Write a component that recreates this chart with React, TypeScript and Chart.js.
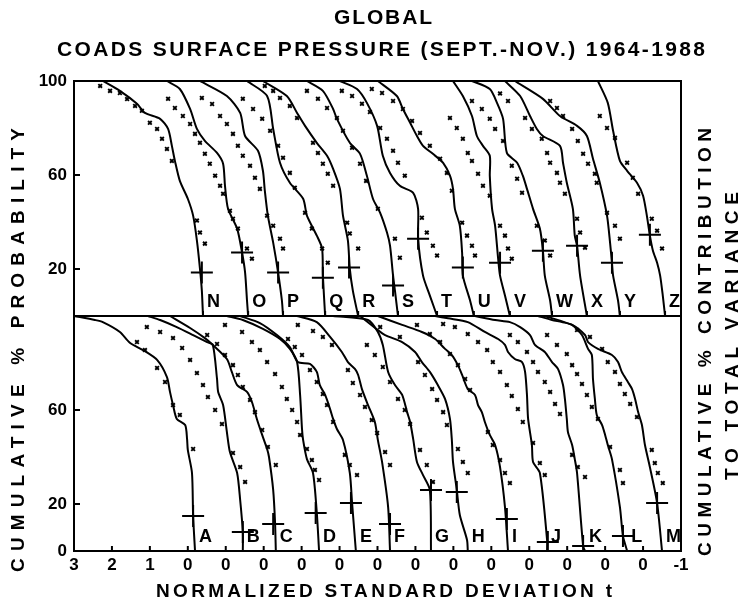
import React, { useEffect, useRef } from 'react';
import { Chart, registerables } from 'chart.js';

Chart.register(...registerables);

// ---------- text ----------
const TITLE_1 = 'GLOBAL';
const TITLE_2 = 'COADS SURFACE PRESSURE (SEPT.-NOV.) 1964-1988';
const X_TITLE = 'NORMALIZED STANDARD DEVIATION t';
const Y_TITLE_LEFT = 'CUMULATIVE % PROBABILITY';
const Y_TITLE_RIGHT_1 = 'CUMULATIVE % CONTRIBUTION';
const Y_TITLE_RIGHT_2 = 'TO TOTAL VARIANCE';

// ---------- axes ----------
// x value = t - k (k = curve index within its panel), so each curve has its own "0"
const X_TICK_VALUES = [3, 2, 1, 0, -1, -2, -3, -4, -5, -6, -7, -8, -9, -10, -11, -12, -13];
const X_TICK_LABELS = ['3', '2', '1', '0', '0', '0', '0', '0', '0', '0', '0', '0', '0', '0', '0', '0', '-1'];
// bottom panel 0..100, top panel 100..200
const Y_TICK_VALUES = [0, 20, 60, 120, 160, 200];
const Y_TICK_LABELS = ['0', '20', '60', '20', '60', '100'];

const TOP_NAMES = ['N', 'O', 'P', 'Q', 'R', 'S', 'T', 'U', 'V', 'W', 'X', 'Y', 'Z'];
const BOTTOM_NAMES = ['A', 'B', 'C', 'D', 'E', 'F', 'G', 'H', 'I', 'J', 'K', 'L', 'M'];

// ---------- top panel: solid curves [t, %] ----------
const N_line = [[2.24,100],[1.79,95.8],[1.34,90.3],[1.13,86.4],[0.73,83.9],[0.52,79.6],[0.42,72.4],[0.34,66],[0.21,57.5],[0,49.9],[-0.14,42.7],[-0.24,32.1],[-0.32,20.2],[-0.37,10.8],[-0.40,0]];
const O_line = [[1.55,100],[1.21,96.6],[0.94,88.1],[0.76,79.6],[0.55,74.5],[0.23,69.4],[0.07,64.8],[0.02,55.4],[-0.06,45.6],[-0.30,37.2],[-0.43,27],[-0.51,18.5],[-0.56,6.6],[-0.59,0]];
const P_line = [[1.68,100],[0.97,93.6],[0.62,86.4],[0.49,76.6],[0.15,70.3],[0.02,61.8],[-0.03,53.3],[-0.11,42.7],[-0.25,31.2],[-0.38,18.5],[-0.48,6.6],[-0.51,0]];
const Q_line = [[1.44,100],[0.91,93.6],[0.75,79.6],[0.57,65.2],[0.31,56.7],[-0.04,49.9],[-0.14,42.7],[-0.40,34.2],[-0.54,28.7],[-0.56,17.2],[-0.62,0]];
const R_line = [[2.02,100],[1.39,93.6],[1.12,86.4],[0.91,80.9],[0.60,73.7],[0.33,68.2],[0.17,62.6],[-0.01,54.1],[-0.09,42.7],[-0.22,32.1],[-0.27,20.2],[-0.35,10.8],[-0.49,0]];
const S_line = [[1.86,100],[1.44,95.8],[1.17,88.1],[1.07,83.9],[0.73,73.7],[0.46,69],[0.28,59.7],[0.12,49.9],[-0.07,43.9],[-0.25,35.5],[-0.33,29.9],[-0.41,17.2],[-0.46,10.8],[-0.54,0]];
const T_line = [[1.99,100],[1.54,96.6],[1.28,90.7],[1.01,80.9],[0.86,68.2],[0.67,60.9],[0.41,55.4],[0.06,52.4],[-0.07,45.6],[-0.07,32.9],[-0.20,17.2],[-0.38,8.7],[-0.57,0]];
const U_line = [[1.99,100],[1.49,93.6],[1.33,88.1],[1.14,82.2],[0.96,76.6],[0.80,72.4],[0.54,69],[0.27,65.2],[0.09,59.7],[0.01,54.1],[-0.04,45.6],[-0.17,38.4],[-0.23,27],[-0.25,17.2],[-0.44,6.6],[-0.54,0]];
const V_line = [[1.01,100],[0.75,93.6],[0.51,85.1],[0.38,76.6],[0.22,72.4],[0.04,68.2],[0.04,59.7],[-0.02,45.6],[-0.10,38.4],[-0.18,24.4],[-0.23,17.2],[-0.36,8.7],[-0.49,0]];
const W_line = [[1.51,100],[1.04,96.6],[0.85,90.7],[0.69,83.9],[0.59,69.4],[0.32,65.2],[0.17,59.7],[0.06,54.1],[-0.10,45.6],[-0.28,37.2],[-0.36,27.8],[-0.41,17.2],[-0.55,6.6],[-0.60,0]];
const X_line = [[1.64,100],[1.24,93.6],[0.98,85.1],[0.80,79.6],[0.64,76.6],[0.19,72.4],[0.11,65.2],[0.01,56.7],[-0.15,45.6],[-0.20,34.2],[-0.26,29.9],[-0.34,17.2],[-0.52,0]];
const Y_line = [[2.38,100],[1.64,92.4],[1.19,85.1],[0.74,80.9],[0.48,76.6],[0.32,66.9],[0.14,56.7],[-0.05,42.7],[-0.13,31.2],[-0.18,22.7],[-0.21,17.2],[-0.34,6.6],[-0.39,0]];
const Z_line = [[1.19,100],[0.93,90.7],[0.79,78.8],[0.61,66],[0.42,61.8],[0.16,56.7],[0,51.2],[-0.10,42.7],[-0.18,34.2],[-0.26,27.8],[-0.37,22.7],[-0.45,17.2],[-0.52,8.7],[-0.58,0]];

// ---------- top panel: "x" points [t, %] ----------
const N_marks = [[2.31,97.9],[2.05,95.8],[1.79,94.9],[1.60,92.3],[1.39,89.4],[1.21,87.3],[1.0,82.2],[0.81,79.6],[0.68,75.4],[0.55,71.1],[0.42,66],[-0.24,40.6],[-0.32,35.5],[-0.45,30.8]];
const O_marks = [[1.52,92.4],[1.34,88.5],[1.13,85.1],[0.94,81.7],[0.81,77.5],[0.68,73.7],[0.55,69],[0.42,64.8],[0.28,59.7],[0.15,55.4],[0.07,52],[-0.11,44.8],[-0.19,41.4],[-0.32,37.2],[-0.56,28.7],[-0.69,24.4]];
const P_marks = [[1.63,92.8],[1.36,90.2],[1.15,85.1],[0.97,81.7],[0.81,77.5],[0.68,72.4],[0.55,68.2],[0.36,63.9],[0.23,58.8],[0.10,54.1],[-0.09,42.7],[-0.25,38.4],[-0.43,32.9],[-0.51,28.7]];
const Q_marks = [[1.55,92.4],[1.28,88.1],[1.04,83.9],[0.83,78.8],[0.62,72.4],[0.49,67.3],[0.31,60.9],[0.18,54.6],[-0.09,43.9],[-0.27,37.2],[-0.54,28.7],[-0.69,22.7]];
const R_marks = [[1.97,97.9],[1.75,95.8],[1.57,92.8],[1.31,89.4],[1.12,84.3],[0.70,73.7],[0.57,69.4],[0.44,64.8],[0.31,60.5],[0.17,55.4],[-0.20,39.7],[-0.27,35.1],[-0.49,28.7]];
const S_marks = [[1.86,95.8],[1.57,92.4],[1.33,88.5],[1.07,84.3],[0.91,78.8],[0.67,71.6],[0.46,64.8],[0.30,57.5],[-0.01,45.6],[-0.46,32.9],[-0.59,24.8]];
const T_marks = [[1.94,95.8],[1.67,93.6],[1.41,90.3],[1.20,86.8],[0.93,80],[0.75,75.4],[0.59,70.3],[0.46,65.2],[0.28,59.7],[-0.17,41.8],[-0.30,35.5],[-0.46,29.9],[-0.57,25.7]];
const U_marks = [[2.15,96.6],[1.88,94.9],[1.59,91.5],[1.33,88.1],[1.09,83],[0.88,77.9],[0.62,72.4],[0.35,66.9],[0.17,60.9],[0.04,53.3],[-0.23,39.7],[-0.36,34.2],[-0.49,29.9],[-0.57,25.7]];
const V_marks = [[1.09,84.3],[0.91,80],[0.75,75.4],[0.62,69.4],[0.51,66],[0.35,60.5],[0.22,55.4],[0.04,51.2],[-0.23,38.4],[-0.36,34.2],[-0.44,28.7],[-0.54,24.4]];
const W_marks = [[1.51,91.5],[1.25,88.1],[1.04,83.9],[0.90,79.6],[0.69,74.5],[0.46,63.9],[0.32,58.4],[0.19,52.4],[-0.20,38.4],[-0.41,32.1],[-0.55,25.7]];
const X_marks = [[1.77,94.7],[1.56,91.5],[1.11,84.3],[0.93,79.6],[0.67,75.4],[0.53,69.4],[0.45,65.2],[0.27,60.9],[0.19,56.7],[0.06,52],[-0.26,41.4],[-0.34,35.5],[-0.47,29.1]];
const Y_marks = [[1.45,91.5],[1.27,88.5],[1.11,85.1],[0.87,79.6],[0.72,74.5],[0.58,69],[0.45,64.8],[0.27,60.5],[0.22,56.7],[-0.05,43.9],[-0.26,38.4],[-0.39,32.9]];
const Z_marks = [[1.14,85.1],[0.95,80],[0.74,75.8],[0.42,65.2],[0.27,58.8],[0.13,52],[-0.23,41.4],[-0.37,36.3],[-0.50,28.7]];

// ---------- bottom panel: solid curves [t, %] ----------
const A_line = [[3,100],[2.45,98.3],[2.24,97.4],[1.79,93.2],[1.52,88.5],[1.18,85.5],[0.81,81.3],[0.55,74],[0.47,67.7],[0.39,62.1],[0.29,56.2],[0.07,53.6],[0.02,47.7],[0,43],[-0.11,33.2],[-0.14,14.9],[-0.19,0]];
const B_line = [[2.05,100],[1.73,98.3],[1.29,95.3],[0.86,91.9],[0.49,88.9],[0.34,87.7],[0.23,73.2],[0.20,67.7],[0.07,62.1],[-0.03,50.6],[-0.11,42.1],[-0.30,33.2],[-0.38,21.7],[-0.45,8.1],[-0.45,0]];
const C_line = [[2.47,100],[1.94,94.9],[1.55,90.6],[1.34,87.7],[0.97,81.7],[0.84,76.2],[0.70,70.6],[0.44,67.7],[0.31,63.4],[0.18,56.2],[0.04,49.4],[-0.09,43.4],[-0.14,40],[-0.25,26],[-0.30,11.9],[-0.32,0]];
const D_line = [[1.97,100],[1.55,98.3],[1.02,94.5],[0.57,90.2],[0.31,86],[0.12,80.4],[0.04,66.4],[-0.01,51.9],[-0.04,47.2],[-0.14,39.1],[-0.30,33.2],[-0.40,16.2],[-0.46,0]];
const E_line = [[2.62,100],[2.10,97],[1.65,91.9],[1.31,86.8],[1.10,80.4],[0.78,79.6],[0.60,76.2],[0.52,70.6],[0.38,66.4],[0.25,60.4],[0.17,56.2],[0.07,51.9],[-0.09,47.2],[-0.27,33.2],[-0.33,20.4],[-0.43,0]];
const F_line = [[2.12,100],[1.60,97.4],[1.25,91.1],[0.94,84.7],[0.78,80.4],[0.59,77.4],[0.51,74.9],[0.41,68.9],[0.25,62.1],[0.07,54.9],[-0.01,47.2],[-0.12,37.9],[-0.28,18.7],[-0.33,0]];
const G_line = [[2.17,100],[1.25,98.3],[0.99,93.2],[0.86,87.7],[0.72,76.2],[0.54,70.6],[0.35,66.4],[0.22,59.1],[0.14,54.9],[0.06,47.7],[-0.04,37.9],[-0.20,32.3],[-0.38,26],[-0.41,0]];
const H_line = [[2.46,100],[1.99,94],[1.80,91.9],[1.35,88.9],[1.01,84.7],[0.83,80.4],[0.62,76.2],[0.41,70.6],[0.22,64.7],[0.09,56.2],[0.04,47.2],[0.01,37.9],[-0.09,26],[-0.17,15.3],[-0.36,4.7],[-0.38,0]];
const I_line = [[2.99,100],[2.35,96.2],[1.83,93.2],[1.48,90.2],[1.22,86],[1.04,83.4],[0.88,79.1],[0.77,74.9],[0.62,68.9],[0.43,66.4],[0.35,62.1],[0.25,59.1],[0.17,54.9],[0.04,49.4],[-0.10,45.1],[-0.23,35.7],[-0.36,18.7],[-0.44,0]];
const J_line = [[2.48,100],[2.14,99],[1.62,97.4],[1.17,93.2],[0.82,90.2],[0.64,87.7],[0.56,84.7],[0.38,81.7],[0.19,80.4],[0.11,76.2],[0.06,66.4],[0.03,56.2],[-0.07,45.1],[-0.10,37.9],[-0.28,33.2],[-0.47,4.7],[-0.47,0]];
const K_line = [[2.43,100],[1.90,98.3],[1.51,97.4],[1.24,95.3],[0.98,91.9],[0.85,87.7],[0.59,84.7],[0.40,80.4],[0.24,77.4],[0.11,70.6],[0.06,64.7],[0.01,56.2],[-0.02,50.6],[-0.13,45.1],[-0.20,39.1],[-0.26,33.2],[-0.42,2.1],[-0.47,0]];
const L_line = [[1.77,100],[1.40,98.3],[1.14,97.4],[0.87,96.2],[0.61,91.9],[0.45,86],[0.35,83.4],[0.32,73.2],[0.27,64.7],[0.22,57.9],[0.08,53.6],[0,49.4],[-0.07,45.1],[-0.18,39.1],[-0.39,18.7],[-0.47,6.4],[-0.58,0]];
const M_line = [[2.59,100],[1.87,96.2],[1.53,91.9],[1.45,88.9],[1.19,86],[0.82,83.4],[0.66,80.4],[0.56,76.2],[0.40,71.9],[0.29,68.9],[0.21,64.7],[0.13,59.1],[0.03,53.6],[-0.05,45.1],[-0.18,35.7],[-0.37,20.4],[-0.50,0]];

// ---------- bottom panel: "x" points [t, %] ----------
const A_marks = [[1.34,88.9],[1.13,85.5],[0.81,77.9],[0.60,71.9],[0.39,62.1],[0.21,57.9],[-0.14,43.4]];
const B_marks = [[2.08,95.3],[1.73,93.2],[1.39,90.6],[1.15,86.4],[0.94,81.3],[0.76,75.7],[0.60,70.6],[0.47,65.5],[0.28,60],[0.10,54],[-0.19,41.7],[-0.38,35.7],[-0.51,29.4]];
const C_marks = [[1.49,91.9],[1.23,88.1],[1.02,83.4],[0.81,79.1],[0.68,74.9],[0.55,69.8],[0.36,64.3],[0.23,59.1],[0.04,51.5],[-0.11,44.3],[-0.32,36.6]];
const D_marks = [[2.02,96.2],[1.57,93.2],[1.31,88.9],[1.10,85.5],[0.91,80.4],[0.70,75.3],[0.52,69.8],[0.39,64.7],[0.25,60],[0.12,54.9],[0.04,49.4],[-0.14,43.4],[-0.27,38.7],[-0.35,34.5],[-0.46,30.2]];
const E_marks = [[1.36,90.2],[1.18,86.8],[0.99,83.4],[0.78,77],[0.60,71.9],[0.44,66.8],[0.33,62.1],[0.17,54.9],[-0.14,40.9],[-0.27,36.6],[-0.46,32.3]];
const F_marks = [[2.10,96.2],[1.70,93.6],[1.44,91.1],[1.20,87.7],[0.78,77],[0.65,71.5],[0.46,66.4],[0.33,61.3],[0.15,55.7],[0.01,50.2],[-0.20,42.1],[-0.33,36.6]];
const G_marks = [[1.28,87.7],[1.07,83.4],[0.86,78.3],[0.67,71.9],[0.46,64.7],[0.28,60],[0.14,54],[-0.12,43],[-0.30,36.6],[-0.46,29.4]];
const H_marks = [[1.93,95.3],[1.41,91.1],[0.93,80.4],[0.75,74.9],[0.56,68.9],[0.43,64.3],[0.27,59.1],[0.17,53.6],[-0.12,43.4],[-0.25,37.9],[-0.38,33.2]];
const I_marks = [[1.96,96.2],[1.62,92.3],[1.35,88.9],[1.09,83.8],[0.88,79.1],[0.69,73.2],[0.56,68.5],[0.09,50.6],[-0.04,45.1],[-0.23,38.7],[-0.36,33.2],[-0.49,28.9]];
const J_marks = [[2.27,96.6],[1.96,95.3],[1.62,92.3],[1.35,88.9],[1.11,85.5],[0.96,80.4],[0.77,76.2],[0.59,70.6],[0.46,66],[0.30,60.4],[0.17,54.9],[-0.10,46],[-0.28,37.4],[-0.41,32.3]];
const K_marks = [[1.51,91.9],[1.30,88.9],[1.06,84.7],[0.90,80.4],[0.77,76.2],[0.59,71.9],[0.45,67.7],[0.32,62.6],[0.19,58.3],[-0.13,40.9],[-0.28,35.7],[-0.47,31.5]];
const L_marks = [[1.53,91.9],[1.27,87.7],[1.01,83.8],[0.87,79.1],[0.74,75.3],[0.61,71.1],[0.48,66.4],[0.35,61.3],[0.19,56.2],[-0.13,44.3],[-0.39,34.5],[-0.47,28.9]];
const M_marks = [[1.74,94],[1.40,91.1],[1.08,86],[0.93,80.4],[0.74,76.2],[0.61,71.1],[0.48,66.8],[0.34,62.6],[0.16,57],[-0.23,43],[-0.31,37.4],[-0.39,33.2],[-0.52,28.9]];

// ---------- "+" marks [t, %] ----------
const TOP_CROSSES = [[-0.37,18.5],[-0.43,27],[-0.38,18.5],[-0.56,16.3],[-0.25,20.6],[-0.41,13],[-0.07,32.9],[-0.25,20.6],[-0.23,22.7],[-0.36,27.8],[-0.26,29.9],[-0.18,22.7],[-0.18,34.6]];
const BOTTOM_CROSSES = [[-0.14,14.9],[-0.45,8.1],[-0.25,11.5],[-0.37,16.2],[-0.30,20.4],[-0.33,11.5],[-0.41,26],[-0.09,25.1],[-0.41,13.6],[-0.49,3.8],[-0.42,2.1],[-0.47,6.4],[-0.37,20.4]];

const TOP_LINES = [N_line, O_line, P_line, Q_line, R_line, S_line, T_line, U_line, V_line, W_line, X_line, Y_line, Z_line];
const TOP_MARKS = [N_marks, O_marks, P_marks, Q_marks, R_marks, S_marks, T_marks, U_marks, V_marks, W_marks, X_marks, Y_marks, Z_marks];
const BOTTOM_LINES = [A_line, B_line, C_line, D_line, E_line, F_line, G_line, H_line, I_line, J_line, K_line, L_line, M_line];
const BOTTOM_MARKS = [A_marks, B_marks, C_marks, D_marks, E_marks, F_marks, G_marks, H_marks, I_marks, J_marks, K_marks, L_marks, M_marks];

const FONT = '"Liberation Sans", Arial, Helvetica, sans-serif';
const INK = '#000000';

function toPts(arr: number[][], k: number, off: number) {
  return arr.map(([t, p]) => ({ x: t - k, y: p + off }));
}

function buildDatasets() {
  const ds: any[] = [];
  const panels = [
    { lines: TOP_LINES, marks: TOP_MARKS, crosses: TOP_CROSSES, off: 100 },
    { lines: BOTTOM_LINES, marks: BOTTOM_MARKS, crosses: BOTTOM_CROSSES, off: 0 },
  ];
  panels.forEach((pn) => {
    pn.lines.forEach((ln, k) => {
      ds.push({
        data: toPts(ln, k, pn.off),
        showLine: true,
        borderColor: INK,
        borderWidth: 2,
        pointRadius: 0,
        tension: 0.25,
        fill: false,
      });
      ds.push({
        data: toPts(pn.marks[k], k, pn.off),
        showLine: false,
        pointStyle: 'crossRot',
        pointRadius: 2.6,
        pointBorderWidth: 1.9,
        pointBorderColor: INK,
        pointBackgroundColor: INK,
      });
      ds.push({
        data: toPts([pn.crosses[k]], k, pn.off),
        showLine: false,
        pointStyle: 'cross',
        pointRadius: 11,
        pointBorderWidth: 2,
        pointBorderColor: INK,
      });
    });
  });
  return ds;
}

function fitText(ctx: CanvasRenderingContext2D, text: string, cx: number, cy: number, width: number, rotate: boolean) {
  ctx.save();
  ctx.translate(cx, cy);
  if (rotate) ctx.rotate(-Math.PI / 2);
  const c: any = ctx;
  c.letterSpacing = '0px';
  const w0 = ctx.measureText(text).width;
  const sp = Math.max(0, (width - w0) / Math.max(1, text.length - 1));
  c.letterSpacing = sp + 'px';
  ctx.textAlign = 'left';
  ctx.textBaseline = 'middle';
  ctx.fillText(text, -width / 2, 0);
  ctx.restore();
}

const decorPlugin = {
  id: 'decor',
  afterDraw(chart: any) {
    const { ctx, chartArea } = chart;
    const { left, right, top, bottom } = chartArea;
    const xs = chart.scales.x;
    const ys = chart.scales.y;
    const yMid = ys.getPixelForValue(100);
    const seg = (x1: number, y1: number, x2: number, y2: number) => {
      ctx.beginPath();
      ctx.moveTo(x1, y1);
      ctx.lineTo(x2, y2);
      ctx.stroke();
    };
    ctx.save();
    ctx.strokeStyle = INK;
    ctx.fillStyle = INK;
    ctx.lineWidth = 2;
    ctx.strokeRect(left, top, right - left, bottom - top);
    seg(left, yMid, right, yMid);
    // inward ticks on the left axis
    Y_TICK_VALUES.forEach((v) => {
      if (v === 0 || v === 200) return;
      const py = ys.getPixelForValue(v);
      seg(left, py, left + 6, py);
    });
    // inward ticks on the bottom axis
    X_TICK_VALUES.forEach((v) => {
      if (v === 3 || v === -13) return;
      const px = xs.getPixelForValue(v);
      seg(px, bottom, px, bottom - 5);
    });
    // ticks on the panel divider at the end of each top curve
    TOP_LINES.forEach((ln, k) => {
      const last = ln[ln.length - 1];
      const px = xs.getPixelForValue(last[0] - k);
      seg(px, yMid, px, yMid - 5);
    });
    // curve letters
    ctx.font = `bold 18px ${FONT}`;
    ctx.textAlign = 'left';
    ctx.textBaseline = 'alphabetic';
    TOP_LINES.forEach((ln, k) => {
      const last = ln[ln.length - 1];
      const px = xs.getPixelForValue(last[0] - k);
      ctx.fillText(TOP_NAMES[k], px + 4, yMid - 9);
    });
    BOTTOM_LINES.forEach((ln, k) => {
      const last = ln[ln.length - 1];
      const px = xs.getPixelForValue(last[0] - k);
      ctx.fillText(BOTTOM_NAMES[k], px + 4, bottom - 9);
    });
    // titles
    ctx.font = `bold 21px ${FONT}`;
    fitText(ctx, TITLE_1, 383, 18, 98, false);
    fitText(ctx, TITLE_2, 381, 50, 648, false);
    ctx.font = `bold 19px ${FONT}`;
    fitText(ctx, X_TITLE, 384, 592, 456, false);
    fitText(ctx, Y_TITLE_LEFT, 19, 350, 444, true);
    fitText(ctx, Y_TITLE_RIGHT_1, 706, 342, 428, true);
    fitText(ctx, Y_TITLE_RIGHT_2, 733, 336, 288, true);
    ctx.restore();
  },
};

export default function App() {
  const ref = useRef<HTMLCanvasElement | null>(null);
  useEffect(() => {
    if (!ref.current) return;
    const chart = new Chart(ref.current, {
      type: 'scatter',
      data: { datasets: buildDatasets() },
      options: {
        animation: false,
        responsive: false,
        maintainAspectRatio: false,
        layout: { padding: { top: 81, right: 67, bottom: 0, left: 0 } },
        plugins: {
          legend: { display: false },
          tooltip: { enabled: false },
          title: { display: false },
        },
        scales: {
          x: {
            type: 'linear',
            reverse: true,
            min: -13,
            max: 3,
            afterBuildTicks: (s: any) => {
              s.ticks = X_TICK_VALUES.map((v) => ({ value: v }));
            },
            afterFit: (s: any) => {
              s.height = 58;
            },
            ticks: {
              autoSkip: false,
              maxRotation: 0,
              padding: 4,
              color: INK,
              font: { size: 17, family: FONT, weight: 'bold' },
              callback: (v: any) => X_TICK_LABELS[X_TICK_VALUES.indexOf(Number(v))] ?? '',
            },
            grid: { display: false, drawTicks: false },
            border: { display: false },
          },
          y: {
            type: 'linear',
            min: 0,
            max: 200,
            afterBuildTicks: (s: any) => {
              s.ticks = Y_TICK_VALUES.map((v) => ({ value: v }));
            },
            afterFit: (s: any) => {
              s.width = 74;
            },
            ticks: {
              autoSkip: false,
              padding: 7,
              color: INK,
              font: { size: 17, family: FONT, weight: 'bold' },
              callback: (v: any) => Y_TICK_LABELS[Y_TICK_VALUES.indexOf(Number(v))] ?? '',
            },
            grid: { display: false, drawTicks: false },
            border: { display: false },
          },
        },
      },
      plugins: [decorPlugin],
    } as any);
    return () => chart.destroy();
  }, []);
  return (
    <div style={{ position: 'fixed', left: 0, top: 0, width: 748, height: 609, background: '#fff' }}>
      <canvas ref={ref} width={748} height={609} style={{ display: 'block' }} />
    </div>
  );
}
